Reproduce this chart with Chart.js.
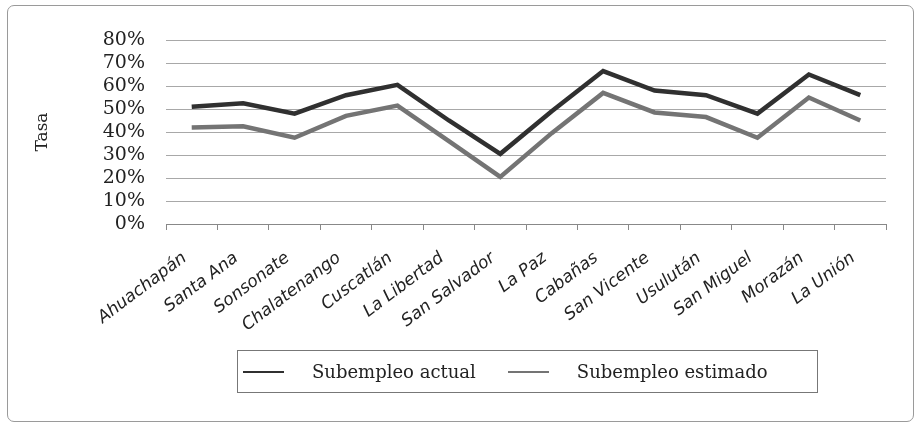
<!DOCTYPE html>
<html>
<head>
<meta charset="utf-8">
<script src="https://cdn.jsdelivr.net/npm/chart.js@4.4.1/dist/chart.umd.min.js"></script>
<style>
  html, body { margin: 0; padding: 0; background: #fff; }
  #wrap { position: relative; width: 921px; height: 425px; }
  #marco { position: absolute; left: 7px; top: 5px; width: 905px; height: 415px; border: 1px solid #9a9a9a; border-radius: 7px; }
  #myChart { position: absolute; left: 0; top: 0; }
  #leyenda { position: absolute; left: 237px; top: 350px; width: 579px; height: 41px; border: 1px solid #777;
             display: flex; align-items: center; font-family: "DejaVu Serif"; font-size: 18px; color: #222; }
  .item { display: flex; align-items: center; }
  .linea { display: inline-block; width: 41px; height: 2px; margin-right: 28px; }
</style>
</head>
<body>
<div id="wrap">
  <div id="marco"></div>
  <canvas id="myChart" width="921" height="425"></canvas>
  <div id="leyenda"></div>
</div>
<script>
const regiones = ['Ahuachapán', 'Santa Ana', 'Sonsonate', 'Chalatenango', 'Cuscatlán', 'La Libertad',
    'San Salvador', 'La Paz', 'Cabañas', 'San Vicente', 'Usulután', 'San Miguel', 'Morazán', 'La Unión'];

const subempleoActual = [51, 52.5, 48, 56, 60.5, 45, 30.5, 49, 66.5, 58, 56, 48, 65, 56];
const subempleoEstimado = [42, 42.5, 37.5, 47, 51.5, 36, 20.5, 39.5, 57, 48.5, 46.5, 37.5, 55, 45];

const series = ['Subempleo actual', 'Subempleo estimado'];
const colores = ['#303030', '#747474'];

const ctx = document.getElementById('myChart');

const grafico = new Chart(ctx, {
    type: 'line',
    data: {
        labels: regiones,
        datasets: [{
            label: series[0],
            data: subempleoActual,
            borderColor: colores[0],
            borderWidth: 4.5,
            pointRadius: 0,
            tension: 0,
            fill: false
        },
        {
            label: series[1],
            data: subempleoEstimado,
            borderColor: colores[1],
            borderWidth: 4.5,
            pointRadius: 0,
            tension: 0,
            fill: false
        }]
    },
    options: {
        responsive: false,
        animation: false,
        layout: {
            padding: { left: 32, top: 40, right: 35, bottom: 76 }
        },
        scales: {
            x: {
                offset: true,
                grid: {
                    offset: true,
                    drawOnChartArea: false,   // solo las marcas del eje
                    drawTicks: true,
                    tickLength: 6,
                    color: '#888'
                },
                border: { display: true, color: '#888', width: 1 },
                ticks: {
                    autoSkip: false,
                    minRotation: 37,
                    maxRotation: 37,
                    padding: 18,
                    labelOffset: -7,
                    color: '#222',
                    font: { family: 'DejaVu Sans', size: 17, style: 'italic' }
                },
                afterFit: (escala) => { escala.height = 125; }
            },
            y: {
                min: 0,
                max: 80,
                ticks: {
                    stepSize: 10,
                    autoSkip: false,
                    padding: 21,
                    color: '#222',
                    font: { family: 'DejaVu Serif', size: 19 },
                    callback: (v) => v + '%'
                },
                grid: { color: '#a8a8a8', drawTicks: false },
                border: { display: false },
                title: {
                    display: true,
                    text: 'Tasa',
                    color: '#222',
                    font: { family: 'DejaVu Serif', size: 17 },
                    padding: { top: 0, bottom: 0 }
                },
                afterFit: (escala) => { escala.width = 134; }
            }
        },
        plugins: {
            legend: { display: false },
            tooltip: { enabled: false }
        }
    }
});

// leyenda en html con el recuadro
const leyenda = document.getElementById('leyenda');
grafico.data.datasets.forEach((ds, i) => {
    leyenda.innerHTML += `
        <div class="item" style="margin-left:${i === 0 ? 5 : 32}px">
            <span class="linea" style="background:${ds.borderColor}"></span>
            <span>${ds.label}</span>
        </div>`;
});
</script>
</body>
</html>
